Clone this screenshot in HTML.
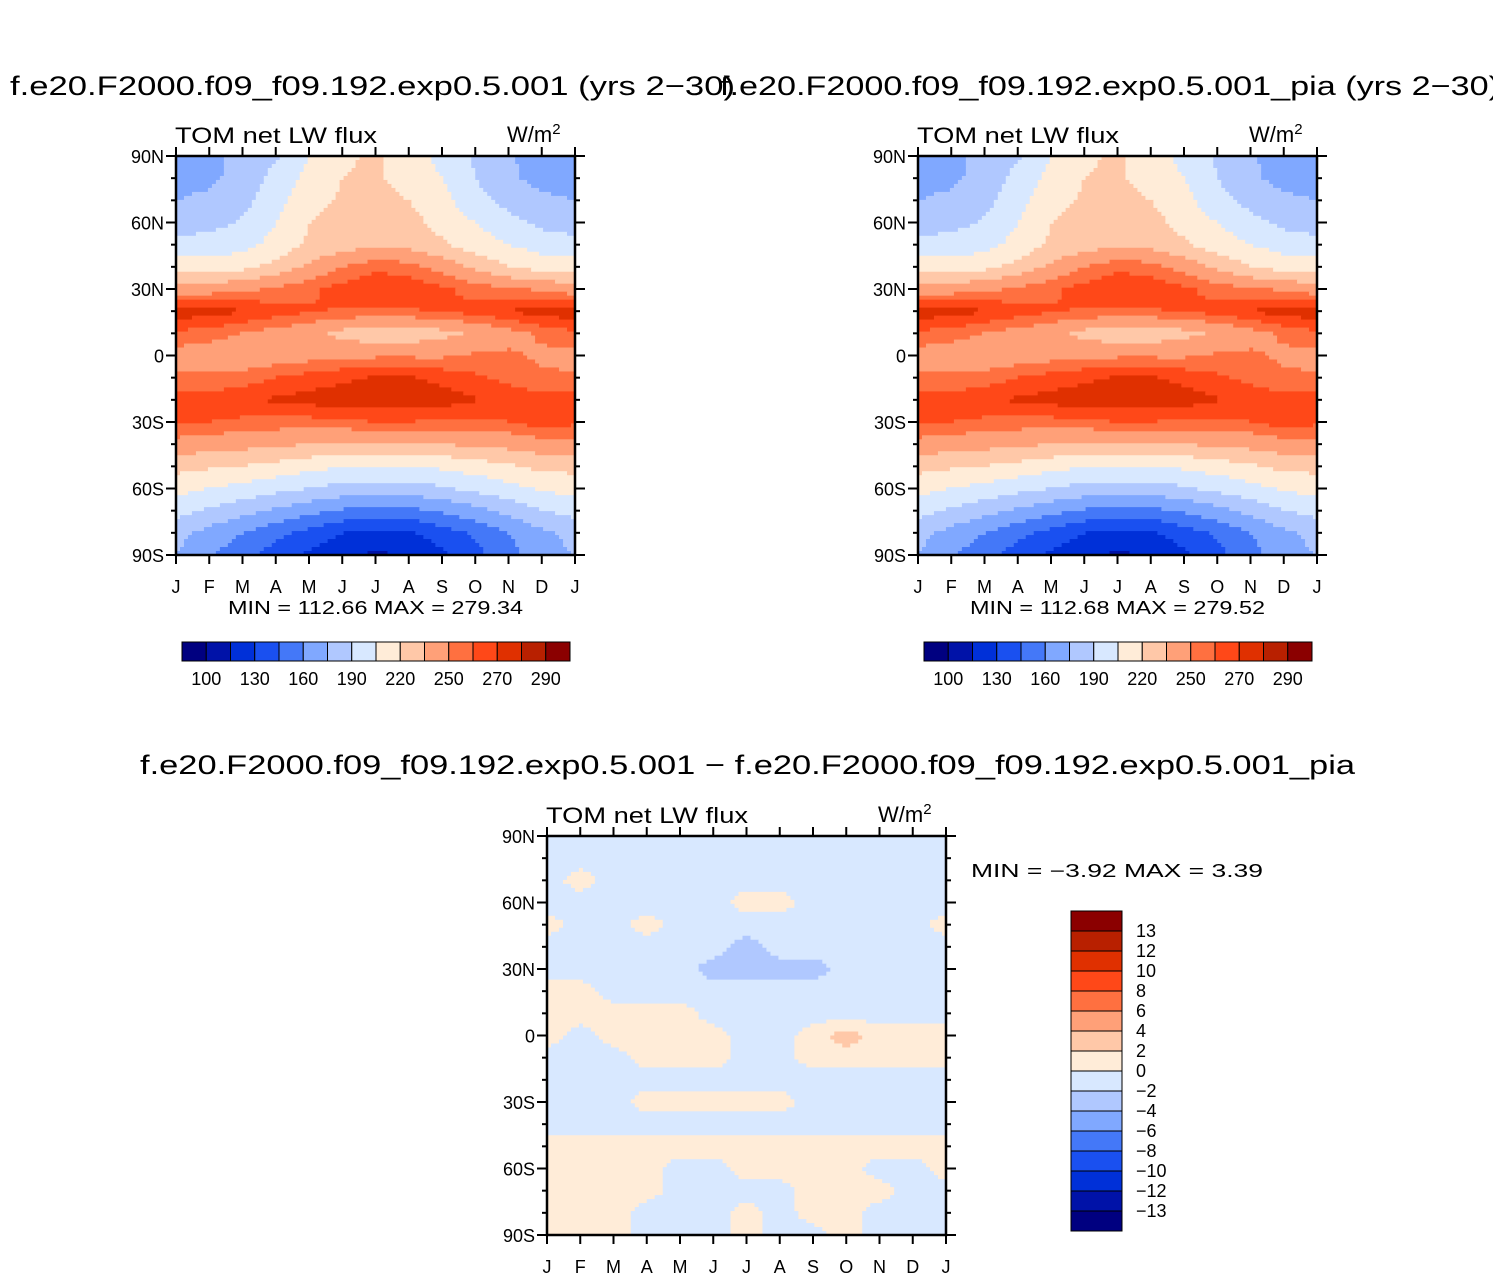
<!DOCTYPE html>
<html><head><meta charset="utf-8"><style>
body{margin:0;background:#fff;}
svg{display:block;font-family:"Liberation Sans",sans-serif;}
</style></head><body>
<svg id="fig" width="1493" height="1280" viewBox="0 0 1493 1280">
<text x="10" y="95" font-size="27" textLength="725" lengthAdjust="spacingAndGlyphs">f.e20.F2000.f09_f09.192.exp0.5.001 (yrs 2−30)</text>
<text x="720" y="95" font-size="27" textLength="780" lengthAdjust="spacingAndGlyphs">f.e20.F2000.f09_f09.192.exp0.5.001_pia (yrs 2−30)</text>
<text x="140" y="774" font-size="27" textLength="1215" lengthAdjust="spacingAndGlyphs">f.e20.F2000.f09_f09.192.exp0.5.001 − f.e20.F2000.f09_f09.192.exp0.5.001_pia</text>
</svg>
<script>
const months = ["J","F","M","A","M","J","J","A","S","O","N","D","J"];
const latLabels = ["90N","60N","30N","0","30S","60S","90S"];
const fluxLevels = [100,115,130,145,160,175,190,205,220,235,250,260,270,280,290];
const fluxTickLabels = ["100","130","160","190","220","250","270","290"];
const fluxTickIdx = [0,2,4,6,8,10,12,14];
const diffLevels = [-13,-12,-10,-8,-6,-4,-2,0,2,4,6,8,10,12,13];
const diffTickLabels = ["−13","−12","−10","−8","−6","−4","−2","0","2","4","6","8","10","12","13"];
const colors = ["#000080","#0012a8","#0030d8","#1a50f0","#4478f8","#80a8ff","#b0c8ff","#d8e8ff","#ffecd8","#ffc8a8","#ffa078","#ff7040","#ff4818","#e03000","#b82000","#8b0000"];
// rows: 90N -> 90S every 10 deg; columns: Jan..Jan
const fluxA = [
[168,172,178,188,205,218,222,215,200,188,176,170,168],
[170,172,180,195,210,220,222,215,205,190,178,170,170],
[175,178,185,200,215,222,225,220,210,195,185,178,175],
[183,185,192,205,220,226,228,225,215,205,195,186,183],
[195,196,200,210,222,228,232,230,222,212,205,198,195],
[212,212,215,225,238,250,258,255,245,232,220,214,212],
[242,243,247,252,258,264,268,266,262,256,252,248,242],
[276,275,271,265,261,259,259,259,261,264,270,276,276],
[258,255,250,245,240,230,225,226,230,238,245,252,258],
[245,242,240,243,245,247,248,248,248,252,252,248,245],
[252,252,255,260,264,268,271,271,267,262,257,252,252],
[264,265,267,272,274,276,277,277,275,271,266,265,264],
[262,260,258,256,256,258,260,260,258,257,260,266,262],
[245,242,240,238,235,233,232,232,235,238,240,244,245],
[225,222,220,215,210,206,205,205,208,212,218,224,225],
[210,205,200,195,190,185,183,184,188,194,200,207,210],
[195,188,180,172,165,158,155,156,162,170,180,190,195],
[180,170,160,150,140,130,125,128,138,148,160,172,180],
[175,162,150,138,127,118,113,116,126,140,155,168,175]];
const fluxB = fluxA.map(r => r.slice());
const diff = [
[-1,-1,-1,-1,-1,-1,-1,-1,-1,-1,-1,-1,-1],
[-1,-1,-1,-1,-1,-1,-1,-1,-1,-1,-1,-1,-1],
[-1,1,-1,-1,-1,-1,-1,-1,-1,-1,-1,-1,-1],
[-1,-1,-1,-1,-1,-1,1,1,-1,-1,-1,-1,-1],
[1,-1,-1,1,-1,-1,-1,-1,-1,-1,-1,-1,1],
[-1,-1,-1,-1,-1,-1,-3,-1,-1,-1,-1,-1,-1],
[-1,-1,-1,-1,-1,-3,-3,-3,-3,-1,-1,-1,-1],
[1,1,-1,-1,-1,-1,-1,-1,-1,-1,-1,-1,-1],
[1,1,1,1,1,-1,-1,-1,-1,-1,-1,-1,-1],
[1,-1,1,1,1,1,-1,-1,1,3,1,1,1],
[-1,-1,-1,1,1,1,-1,-1,1,1,1,1,1],
[-1,-1,-1,-1,-1,-1,-1,-1,-1,-1,-1,-1,-1],
[-1,-1,-1,1,1,1,1,1,-1,-1,-1,-1,-1],
[-1,-1,-1,-1,-1,-1,-1,-1,-1,-1,-1,-1,-1],
[1,1,1,1,1,1,1,1,1,1,1,1,1],
[1,1,1,1,-1,-1,1,1,1,1,-1,-1,1],
[1,1,1,1,-1,-1,-1,-1,1,1,1,-1,-1],
[1,1,1,-1,-1,-1,1,-1,1,1,-1,-1,-1],
[1,1,1,-1,-1,-1,1,-1,-1,1,-1,-1,-1]];

const NS="http://www.w3.org/2000/svg";
const svg=document.getElementById('fig');
function mk(tag,attrs,parent){const e=document.createElementNS(NS,tag);for(const k in attrs)e.setAttribute(k,attrs[k]);(parent||svg).appendChild(e);return e;}
function levelIndex(v,levels){let i=0;while(i<levels.length&&v>=levels[i])i++;return i;}
function sample(grid,fx,fy){
  const x0=Math.min(Math.floor(fx),11),y0=Math.min(Math.floor(fy),17);
  const tx=fx-x0,ty=fy-y0;
  const a=grid[y0][x0],b=grid[y0][x0+1],c=grid[y0+1][x0],d=grid[y0+1][x0+1];
  return (a*(1-tx)+b*tx)*(1-ty)+(c*(1-tx)+d*tx)*ty;
}
function panel(name,grid,levels,X,Y,W,H,minmax){
  const g=mk('g',{});
  
  
  const nx=100, ny=100, cw=W/nx, ch=H/ny;
  for(let j=0;j<ny;j++){
    let runStart=0,runCol=null;
    for(let i=0;i<=nx;i++){
      let col=null;
      if(i<nx){const v=sample(grid,(i+0.5)/nx*12,(j+0.5)/ny*18);col=colors[levelIndex(v,levels)];}
      if(col!==runCol){
        if(runCol!==null){const r=mk('rect',{x:X+runStart*cw,y:Y+j*ch,width:(i-runStart)*cw+0.6,height:ch+0.6,fill:runCol},g);
          
          }
        runStart=i;runCol=col;
      }
    }
  }
  const fr=mk('rect',{x:X,y:Y,width:W,height:H,fill:'none',stroke:'#000','stroke-width':2.5},g);
  
  
  for(let k=0;k<=18;k++){
    const y=Y+k*H/18, major=k%3===0, L=major?10:5;
    mk('line',{x1:X-L,x2:X,y1:y,y2:y,stroke:'#000','stroke-width':2},g);
    mk('line',{x1:X+W,x2:X+W+L,y1:y,y2:y,stroke:'#000','stroke-width':2},g);
    if(major){const t=mk('text',{x:X-12,y:y+7,'font-size':18,'text-anchor':'end'},g);t.textContent=latLabels[k/3];
      
      }
  }
  for(let m=0;m<=12;m++){
    const x=X+m*W/12;
    mk('line',{x1:x,x2:x,y1:Y-9,y2:Y,stroke:'#000','stroke-width':2},g);
    mk('line',{x1:x,x2:x,y1:Y+H,y2:Y+H+9,stroke:'#000','stroke-width':2},g);
    const t=mk('text',{x:x,y:Y+H+38,'font-size':18,'text-anchor':'middle'},g);t.textContent=months[m];
    
    
  }
  const st=mk('text',{x:X-1,y:Y-13,'font-size':22,textLength:202,lengthAdjust:'spacingAndGlyphs'},g);st.textContent='TOM net LW flux';
  
  
  const un=mk('text',{x:X+W-68,y:Y-14,'font-size':22},g);un.innerHTML='W/m<tspan dy="-8" font-size="15">2</tspan>';
  
  
  if(minmax){const t=mk('text',{x:X+52,y:Y+H+59,'font-size':18,textLength:295,lengthAdjust:'spacingAndGlyphs'},g);t.textContent=minmax;
    
    }
}
function hbar(name,X,Y,W,H){
  const g=mk('g',{});
  
  
  const bw=W/16;
  colors.forEach((c,i)=>{const r=mk('rect',{x:X+i*bw,y:Y,width:bw,height:H,fill:c,stroke:'#000','stroke-width':1},g);
    
    });
  fluxTickLabels.forEach((s,i)=>{const t=mk('text',{x:X+(fluxTickIdx[i]+1)*bw,y:Y+43,'font-size':18,'text-anchor':'middle'},g);t.textContent=s;
    
    });
}
panel('panel-control',fluxA,fluxLevels,176,156,399,399,'MIN = 112.66  MAX = 279.34');
panel('panel-pia',fluxB,fluxLevels,918,156,399,399,'MIN = 112.68  MAX = 279.52');
panel('panel-diff',diff,diffLevels,547,836,399,399,null);
hbar('colorbar-control',182,642,388,19);
hbar('colorbar-pia',924,642,388,19);
(function(){
  const g=mk('g',{});
  
  
  const X=1071,Y=911,W=51,bh=20;
  colors.forEach((c,i)=>{const r=mk('rect',{x:X,y:Y+(15-i)*bh,width:W,height:bh,fill:c,stroke:'#000','stroke-width':1},g);
    
    });
  diffTickLabels.forEach((s,i)=>{const t=mk('text',{x:X+W+14,y:Y+(15-i)*bh+6,'font-size':18},g);t.textContent=s;
    
    });
  const mm=mk('text',{x:971,y:877,'font-size':18,textLength:292,lengthAdjust:'spacingAndGlyphs'},g);mm.textContent='MIN =  −3.92  MAX =   3.39';
  
  
})();
</script>
</body></html>
